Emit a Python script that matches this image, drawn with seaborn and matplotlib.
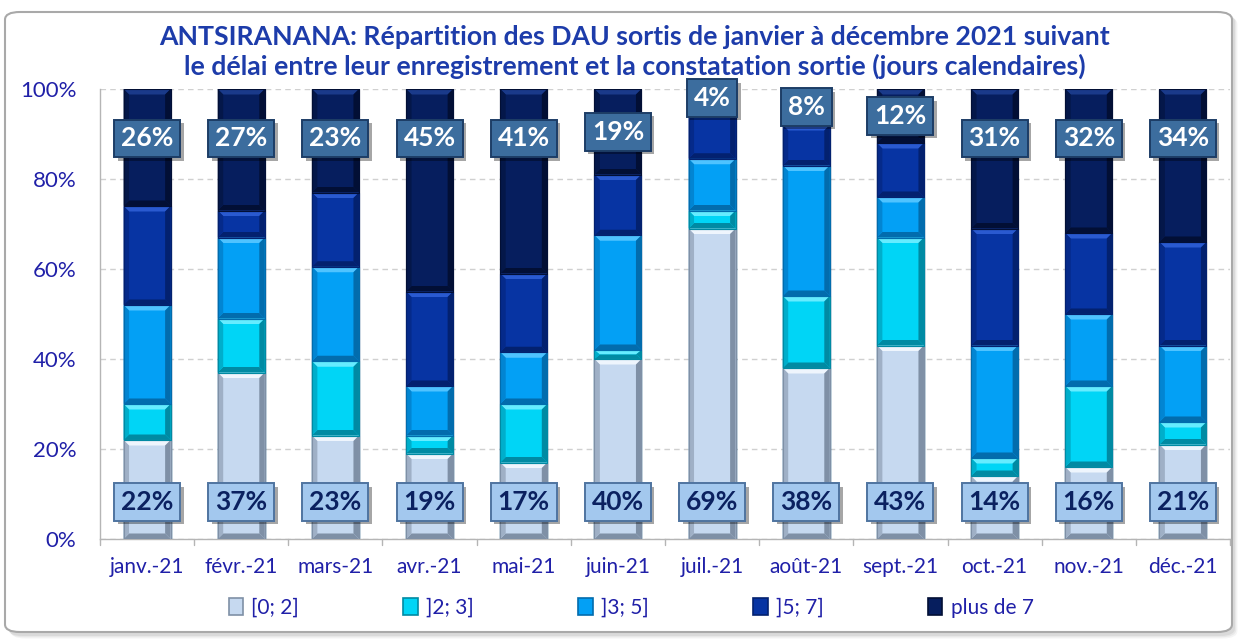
import matplotlib
matplotlib.use("Agg")
import matplotlib.pyplot as plt
import matplotlib.patheffects as pe
import seaborn as sns
import numpy as np
import pandas as pd
from matplotlib.patches import FancyBboxPatch, Polygon, Rectangle

# ---- data -------------------------------------------------------------
months = ["janv.-21", "févr.-21", "mars-21", "avr.-21", "mai-21", "juin-21",
          "juil.-21", "août-21", "sept.-21", "oct.-21", "nov.-21", "déc.-21"]
categories = ["[0; 2]", "]2; 3]", "]3; 5]", "]5; 7]", "plus de 7"]

d0_2 = [22, 37, 23, 19, 17, 40, 69, 38, 43, 14, 16, 21]
d2_3 = [8, 12, 16.5, 4, 13, 2, 4, 16, 24, 4, 18, 5]
d3_5 = [22, 18, 21, 11, 11.5, 25.5, 11.5, 29, 9, 25, 16, 17]
d5_7 = [22, 6, 16.5, 21, 17.5, 13.5, 11.5, 9, 12, 26, 18, 23]
d7p = [26, 27, 23, 45, 41, 19, 4, 8, 12, 31, 32, 34]

title = ("ANTSIRANANA: Répartition des DAU sortis de janvier à décembre 2021 suivant\n"
         "le délai entre leur enregistrement et la constatation sortie (jours calendaires)")

# ---- styling ----------------------------------------------------------
face = ["#c6d9f0", "#00d5f6", "#03a0f5", "#0734a3", "#061e5e"]
light = ["#eef5fd", "#66ecff", "#4fc3ff", "#2a5ad0", "#1a3a8a"]
dark = ["#7f90a6", "#008aa3", "#026cad", "#03216f", "#020f35"]
side = ["#9fb0c6", "#00aecb", "#0285d2", "#052a8a", "#041749"]

FONT = ["Lato", "DejaVu Sans"]
TITLE_C = "#1d3caa"
TICK_C = "#2020a8"

sns.set_theme(style="white")
plt.rcParams["font.family"] = FONT

W, H = 1240, 639
fig = plt.figure(figsize=(W / 100, H / 100), dpi=100)

# rounded frame with soft shadow
for k, a in enumerate([0.06, 0.05, 0.04]):
    fig.patches.append(FancyBboxPatch((8 / W + k * 0.001, 3 / H - k * 0.002), 1227 / W, 622 / H,
                                      boxstyle="round,pad=0,rounding_size=0.012",
                                      transform=fig.transFigure, fc="black", ec="none",
                                      alpha=a, zorder=-3))
fig.patches.append(FancyBboxPatch((5 / W, 7 / H), 1227 / W, 620 / H,
                                  boxstyle="round,pad=0,rounding_size=0.012",
                                  transform=fig.transFigure, fc="white", ec="#a9a9a9",
                                  lw=1.5, zorder=-2))

ax_l, ax_r, ax_t, ax_b = 100, 1230, 89, 539
ax = fig.add_axes([ax_l / W, 1 - ax_b / H, (ax_r - ax_l) / W, (ax_b - ax_t) / H])
ax.set_facecolor("none")
ax.set_zorder(1)

series = [d0_2, d2_3, d3_5, d5_7, d7p]
cum = np.cumsum(np.array(series, dtype=float), axis=0)

df = pd.DataFrame({"month": months})
# stacked bars: draw cumulative totals from the top series downward
for i in range(len(categories) - 1, -1, -1):
    df["v"] = cum[i]
    sns.barplot(data=df, x="month", y="v", color=face[i], width=0.5,
                saturation=1, edgecolor=dark[i], linewidth=0.8, ax=ax, zorder=2)

ax.set_ylim(0, 100)
ax.set_xlim(-0.5, len(months) - 0.5)

# bevel decoration on every visible segment
px_x = (len(months)) / (ax_r - ax_l)
px_y = 100 / (ax_b - ax_t)
bev = 5.5
bar_w = 0.5
for i in range(len(categories)):
    lo = cum[i - 1] if i > 0 else np.zeros(len(months))
    hi = cum[i]
    for j in range(len(months)):
        y0, y1 = lo[j], min(hi[j], 100)
        if y1 - y0 <= 0.05:
            continue
        x0, x1 = j - bar_w / 2, j + bar_w / 2
        dx = bev * px_x
        dy = min(bev * px_y, (y1 - y0) / 2)
        polys = [
            ([(x0, y1), (x1, y1), (x1 - dx, y1 - dy), (x0 + dx, y1 - dy)], light[i]),
            ([(x0, y0), (x1, y0), (x1 - dx, y0 + dy), (x0 + dx, y0 + dy)], dark[i]),
            ([(x0, y0), (x0 + dx, y0 + dy), (x0 + dx, y1 - dy), (x0, y1)], side[i]),
            ([(x1, y0), (x1 - dx, y0 + dy), (x1 - dx, y1 - dy), (x1, y1)], dark[i]),
        ]
        for pts, col in polys:
            ax.add_patch(Polygon(pts, closed=True, fc=col, ec="none", zorder=3))
        ax.add_patch(Rectangle((x0, y0), bar_w, y1 - y0, fc="none",
                               ec=dark[i], lw=0.8, zorder=3.5))

# value labels for the first and last classes
shadow = [pe.SimplePatchShadow(offset=(2.5, -2.5), shadow_rgbFace="#000000", alpha=0.35), pe.Normal()]
for j in range(len(months)):
    vb = d0_2[j]
    yb = min(vb / 2 + 1.5, 8.2)
    t = ax.text(j, yb, f"{vb:.0f}%", ha="center", va="center", fontsize=19,
                fontweight="bold", color="#0b2160", zorder=6,
                bbox=dict(boxstyle="square,pad=0.26", fc="#a3c8ee", ec="#4f74a0", lw=1.4))
    t.get_bbox_patch().set_path_effects(shadow)
    vt = d7p[j]
    yt = 100 - min(vt / 2, 11)
    t = ax.text(j, yt, f"{vt:.0f}%", ha="center", va="center", fontsize=19,
                fontweight="bold", color="white", zorder=6,
                bbox=dict(boxstyle="square,pad=0.26", fc="#3c6d9e", ec="#1d3d66", lw=1.4))
    t.get_bbox_patch().set_path_effects(shadow)

# axes decoration
ax.set_yticks(np.arange(0, 101, 20))
ax.set_yticklabels([f"{t}%" for t in range(0, 101, 20)], color=TICK_C, fontsize=16)
ax.yaxis.grid(True, ls=(0, (4, 3)), color="#d0d0d0", lw=1)
ax.set_axisbelow(True)
ax.set_xlabel("")
ax.set_ylabel("")
ax.set_xticks(range(len(months)))
ax.set_xticklabels(months, color=TICK_C, fontsize=15)
ax.tick_params(axis="x", length=0, pad=13)
ax.tick_params(axis="y", length=0, pad=17)
for j in range(len(months) + 1):
    ax.plot([j - 0.5, j - 0.5], [0, -1.3], color="#b5b5b5", lw=1, clip_on=False, zorder=1)
for s in ["top", "right"]:
    ax.spines[s].set_visible(False)
for s in ["left", "bottom"]:
    ax.spines[s].set_color("#b5b5b5")
    ax.spines[s].set_linewidth(1)

fig.text(0.512, 1 - 52 / H, title, ha="center", va="center", fontsize=19.2,
         fontweight="bold", color=TITLE_C, linespacing=1.25)

handles = [Rectangle((0, 0), 1, 1, fc=face[i], ec=dark[i], lw=1.2) for i in range(len(categories))]
fig.legend(handles, categories, loc="center", bbox_to_anchor=(0.509, 1 - 608 / H), ncol=5,
           frameon=False, fontsize=15, labelcolor=TICK_C, handlelength=0.7,
           handleheight=0.9, handletextpad=0.4, columnspacing=5.0)

fig.savefig("out.png", dpi=100)
